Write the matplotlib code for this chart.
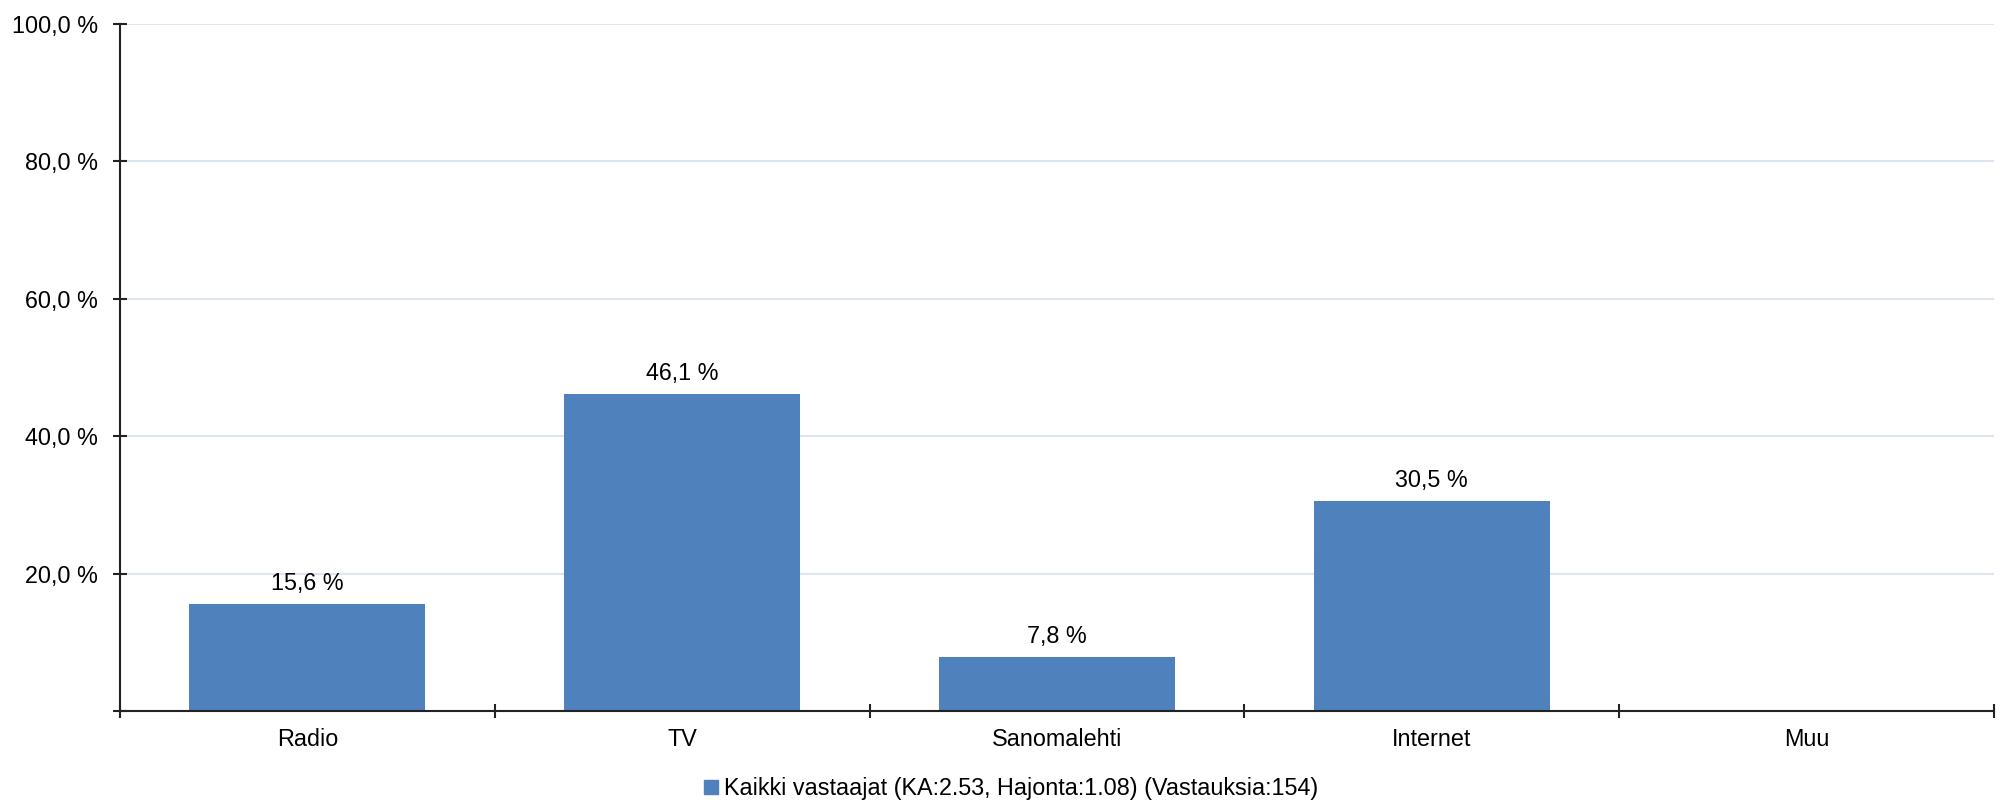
import matplotlib.pyplot as plt
from matplotlib.lines import Line2D
from matplotlib.ticker import FuncFormatter

plt.rcParams['font.family'] = ['Liberation Sans', 'DejaVu Sans']

categories = ['Radio', 'TV', 'Sanomalehti', 'Internet', 'Muu']
values = [15.6, 46.1, 7.8, 30.5, 0.0]
series_name = 'Kaikki vastaajat (KA:2.53, Hajonta:1.08) (Vastauksia:154)'
y_ticks = [20, 40, 60, 80, 100]

bar_color = '#4f81bd'
fs = 16.8

fig = plt.figure(figsize=(20.02, 8), dpi=100)
ax = fig.add_axes([120 / 2002, 1 - 711 / 800, (1994 - 120) / 2002, 687 / 800])

x = list(range(len(categories)))
ax.bar(x, values, width=0.63, color=bar_color, zorder=3)

for xi, v in zip(x, values):
    if v > 0:
        ax.annotate(f'{v:.1f} %'.replace('.', ','), (xi, v), xytext=(0, 6.5),
                    textcoords='offset points', ha='center', va='bottom', fontsize=fs)

ax.set_xlim(-0.5, len(categories) - 0.5)
ax.set_ylim(0, 100)

ax.set_yticks([0] + y_ticks)
ax.yaxis.set_major_formatter(FuncFormatter(lambda v, p: '' if v == 0 else f'{v:.1f} %'.replace('.', ',')))
ax.grid(axis='y', color='#dde5ee', linewidth=1.5, zorder=0)

# category ticks at the boundaries, labels in the middle
ax.set_xticks([i - 0.5 for i in range(len(categories) + 1)])
ax.set_xticklabels([])
ax.set_xticks(x, minor=True)
ax.set_xticklabels(categories, minor=True, fontsize=fs)
ax.tick_params(axis='x', which='minor', length=0, pad=12.5)
ax.tick_params(axis='x', which='major', direction='inout', length=10, width=1.5, color='#222222')
ax.tick_params(axis='y', direction='inout', length=10, width=1.5, color='#222222', labelsize=fs, pad=11)

for s in ['top', 'right']:
    ax.spines[s].set_visible(False)
for s in ['left', 'bottom']:
    ax.spines[s].set_color('#222222')
    ax.spines[s].set_linewidth(1.5)
ax.spines['bottom'].set_zorder(4)

handle = Line2D([], [], marker='s', linestyle='none', markersize=9.5,
                markerfacecolor=bar_color, markeredgecolor=bar_color)
fig.legend([handle], [series_name], loc='center', bbox_to_anchor=(0.505, 1 - 789 / 800),
           frameon=False, fontsize=fs, handlelength=0.6, handletextpad=0.25)

fig.savefig('out.png', dpi=100)
